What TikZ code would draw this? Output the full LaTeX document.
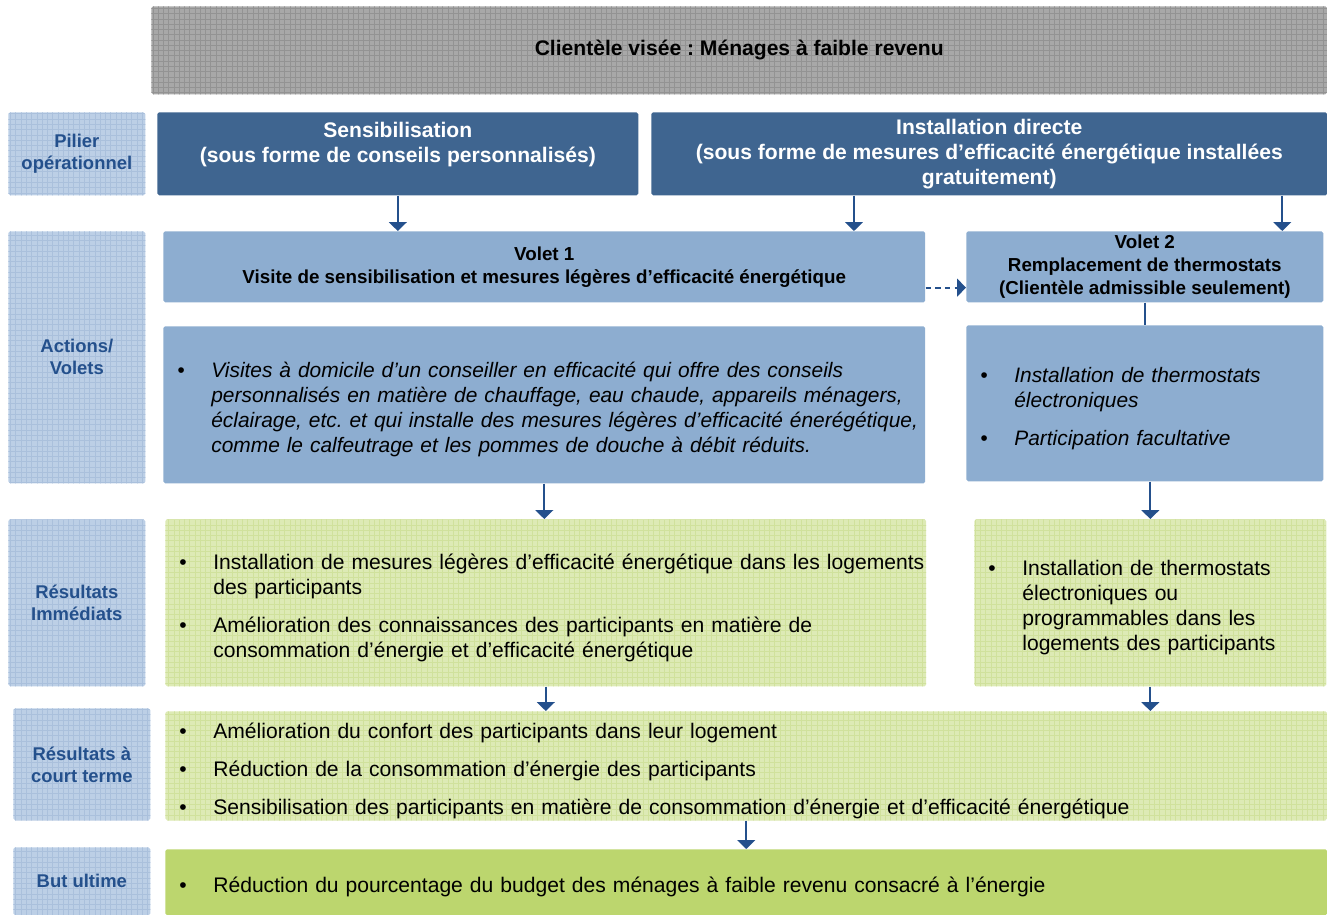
\documentclass[tikz,border=0pt]{standalone}
\usepackage{fontspec}
\setmainfont{Liberation Sans}
\usepackage{xcolor}
\usetikzlibrary{arrows.meta,patterns,positioning,calc}
\frenchspacing

\definecolor{grisfond}{HTML}{A8A8A8}
\definecolor{grisgrille}{HTML}{939393}
\definecolor{bleupale}{HTML}{BCCFE6}
\definecolor{bleugrille}{HTML}{AAC0DC}
\definecolor{bleufonce}{HTML}{3F6590}
\definecolor{bleumoyen}{HTML}{8DADD0}
\definecolor{vertpale}{HTML}{DDEAB5}
\definecolor{vertgrille}{HTML}{D0E19C}
\definecolor{vertfonce}{HTML}{BCD66E}
\definecolor{bleutexte}{HTML}{24508C}

\newlength\retrait
\setlength\retrait{0.68cm}
\newcommand\puce[1]{\par\leftskip=0.28cm\hyphenpenalty=10000\hangindent=\retrait\hangafter=1\noindent\makebox[\retrait][l]{\textbullet}#1\par}
\newcommand\ecart{\vspace{7.4pt}}

\tikzset{
    boite/.style={rectangle, rounded corners=1pt, anchor=north west, inner sep=0pt},
    entete/.style={boite, fill=grisfond, postaction={pattern=grid, pattern color=grisgrille},
        font=\fontsize{12}{14.2}\selectfont\bfseries},
    etiquette/.style={boite, fill=bleupale, postaction={pattern=grid, pattern color=bleugrille},
        text=bleutexte, align=center, minimum width=2.74cm, font=\fontsize{10.5}{12.5}\selectfont\bfseries},
    pilier/.style={boite, fill=bleufonce, text=white, align=center, minimum height=1.66cm,
        font=\fontsize{12}{14.2}\selectfont\bfseries},
    volet/.style={boite, fill=bleumoyen, align=center, minimum height=1.42cm,
        font=\fontsize{10.7}{13}\selectfont\bfseries},
    action/.style={boite, fill=bleumoyen, align=left, font=\fontsize{11.9}{14.2}\selectfont\itshape},
    resultat/.style={boite, fill=vertpale, postaction={pattern=grid, pattern color=vertgrille},
        align=left, font=\fontsize{12}{14.2}\selectfont},
    but/.style={boite, fill=vertfonce, align=left, font=\fontsize{12}{14.2}\selectfont},
    fleche/.style={->, draw=bleutexte, line width=1.1pt}
}

\begin{document}
\begin{tikzpicture}[x=0.02cm, y=-0.02cm, >={Triangle[width=10pt,length=5pt]}]
    \useasboundingbox (0,0) rectangle (1327,915);

    % Nodes
    \node[entete, minimum width=23.52cm, minimum height=1.76cm] (clientele) at (151,6) {Clientèle visée : Ménages à faible revenu};

    \node[etiquette, minimum height=1.66cm] (lpilier) at (8,112) {Pilier\\opérationnel};
    \node[etiquette, minimum height=5.04cm] (lactions) at (8,231) {Actions/\\Volets};
    \node[etiquette, minimum height=3.34cm] (limmediats) at (8,519) {Résultats\\Immédiats};
    \node[etiquette, minimum height=2.24cm] (lcourt) at (13,708) {Résultats à\\court terme};
    \node[etiquette, minimum height=1.36cm] (lbut) at (13,847) {But ultime};

    \node[pilier, minimum width=9.62cm] (sensib) at (157,112) {Sensibilisation\\(sous forme de conseils personnalisés)\\[-5pt]\strut};
    \node[pilier, minimum width=13.52cm] (install) at (651,112) {Installation directe\\(sous forme de mesures d’efficacité énergétique installées\\gratuitement)};

    \node[volet, minimum width=15.24cm] (volet1) at (163,231) {Volet 1\\Visite de sensibilisation et mesures légères d’efficacité énergétique};
    \node[volet, minimum width=7.14cm] (volet2) at (966,231) {Volet 2\\Remplacement de thermostats\\(Clientèle admissible seulement)};

    \node[action, minimum width=15.24cm, minimum height=3.14cm, text width=15.24cm] (v1body) at (163,326) {%
        \puce{Visites à domicile d’un conseiller en efficacité qui offre des conseils\newline
        personnalisés en matière de chauffage, eau chaude, appareils ménagers,\newline
        éclairage, etc. et qui installe des mesures légères d’efficacité énerégétique,\newline
        comme le calfeutrage et les pommes de douche à débit réduits.}};
    \node[action, minimum width=7.14cm, minimum height=3.12cm, text width=7.14cm] (v2body) at (966,325) {%
        \puce{Installation de thermostats\newline électroniques}\ecart
        \puce{Participation facultative}};

    \node[resultat, minimum width=15.22cm, minimum height=3.34cm, text width=15.22cm] (imm1) at (165,519) {%
        \puce{Installation de mesures légères d’efficacité énergétique dans les logements\newline des participants}\ecart
        \puce{Amélioration des connaissances des participants en matière de\newline consommation d’énergie et d’efficacité énergétique}};
    \node[resultat, minimum width=7.04cm, minimum height=3.34cm, text width=7.04cm] (imm2) at (974,519) {%
        \puce{Installation de thermostats\newline électroniques ou\newline programmables dans les\newline logements des participants}};

    \node[resultat, minimum width=23.24cm, minimum height=2.18cm, text width=23.24cm] (court) at (165,711) {%
        \puce{Amélioration du confort des participants dans leur logement}\ecart
        \puce{Réduction de la consommation d’énergie des participants}\ecart
        \puce{Sensibilisation des participants en matière de consommation d’énergie et d’efficacité énergétique}};

    \node[but, minimum width=23.24cm, minimum height=1.32cm, text width=23.24cm] (ultime) at (165,849) {%
        \puce{Réduction du pourcentage du budget des ménages à faible revenu consacré à l’énergie}};

    % Connections
    \coordinate (i1) at ($(install.south west)!0.3!(install.south east)$);
    \coordinate (i2) at ($(install.south west)!0.933!(install.south east)$);
    \coordinate (d1) at ($(volet1.north east)!0.79!(volet1.south east)$);
    \draw[fleche] (sensib.south) -- (sensib.south |- volet1.north);
    \draw[fleche] (i1) -- (i1 |- volet1.north);
    \draw[fleche] (i2) -- (i2 |- volet2.north);
    \draw[fleche, dash pattern=on 3pt off 2.5pt] (d1) -- (d1 -| volet2.west);
    \draw[draw=bleutexte, line width=1.1pt] (volet2.south) -- (v2body.north);
    \draw[fleche] (v1body.south) -- (v1body.south |- imm1.north);
    \draw[fleche] (imm2.north |- v2body.south) -- (imm2.north);
    \draw[fleche] (imm1.south) -- (imm1.south |- court.north);
    \draw[fleche] (imm2.south) -- (imm2.south |- court.north);
    \draw[fleche] (court.south) -- (ultime.north);
\end{tikzpicture}
\end{document}
